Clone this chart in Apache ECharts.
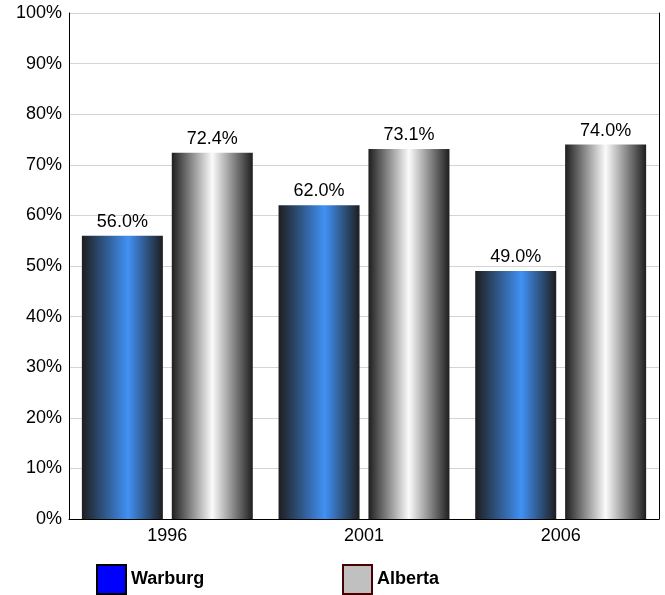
<!DOCTYPE html>
<html>
<head>
<meta charset="utf-8">
<script src="https://cdn.jsdelivr.net/npm/echarts@6/dist/echarts.min.js"></script>
<style>
html,body{margin:0;padding:0;background:#fff;}
#c{width:665px;height:595px;}
</style>
</head>
<body>
<div id="c"></div>
<script>
var categories = ['1996', '2001', '2006'];
var warburg = [56.0, 62.0, 49.0];
var alberta = [72.4, 73.1, 74.0];
var yTicks = [0, 10, 20, 30, 40, 50, 60, 70, 80, 90, 100];

var font = '"Liberation Sans", Arial, sans-serif';
var chart = echarts.init(document.getElementById('c'), null, {renderer: 'canvas'});

function grad(mid, pos) {
  return new echarts.graphic.LinearGradient(0, 0, 1, 0, [
    {offset: 0, color: '#1e1e1e'},
    {offset: pos, color: mid},
    {offset: 1, color: '#1e1e1e'}
  ]);
}

var labelCfg = {
  show: true,
  position: 'top',
  distance: 5,
  color: '#000',
  fontSize: 18,
  fontFamily: font,
  formatter: function (p) { return p.value.toFixed(1) + '%'; }
};

chart.setOption({
  animation: false,
  backgroundColor: '#fff',
  grid: {left: 69, right: 6, top: 13, bottom: 76, containLabel: false},
  legend: [
    {
      left: 96, top: 564, padding: 0,
      itemWidth: 29, itemHeight: 29, itemGap: 0,
      textStyle: {fontSize: 18, fontWeight: 'bold', fontFamily: font, color: '#000'},
      data: [{name: 'Warburg', icon: 'rect', itemStyle: {color: '#0000ff', borderColor: '#000', borderWidth: 2}}]
    },
    {
      left: 342, top: 564, padding: 0,
      itemWidth: 29, itemHeight: 29, itemGap: 0,
      textStyle: {fontSize: 18, fontWeight: 'bold', fontFamily: font, color: '#000'},
      data: [{name: 'Alberta', icon: 'rect', itemStyle: {color: '#c0c0c0', borderColor: '#4a0000', borderWidth: 2}}]
    }
  ],
  xAxis: {
    type: 'category',
    data: categories,
    axisLine: {show: true, lineStyle: {color: '#000', width: 1}},
    axisTick: {show: false},
    axisLabel: {color: '#000', fontSize: 18, fontFamily: font, margin: 8}
  },
  yAxis: [
    {
      type: 'value',
      min: 0, max: 100, interval: 10,
      axisLine: {show: true, lineStyle: {color: '#000', width: 1}},
      axisTick: {show: false},
      axisLabel: {
        color: '#000', fontSize: 18, fontFamily: font, margin: 7,
        formatter: function (v) { return yTicks.indexOf(v) >= 0 ? v + '%' : ''; }
      },
      splitLine: {show: true, lineStyle: {color: '#d4d4d4', width: 1}}
    },
    {
      type: 'value',
      position: 'right',
      min: 0, max: 100, interval: 10,
      axisLine: {show: true, lineStyle: {color: '#000', width: 1}},
      axisTick: {show: false},
      axisLabel: {show: false},
      splitLine: {show: false}
    }
  ],
  series: [
    {
      name: 'Warburg',
      type: 'bar',
      data: warburg,
      barWidth: 81,
      barGap: '11%',
      itemStyle: {color: grad('#4191f5', 0.57)},
      label: labelCfg
    },
    {
      name: 'Alberta',
      type: 'bar',
      data: alberta,
      barWidth: 81,
      itemStyle: {color: grad('#fbfbfb', 0.5)},
      label: labelCfg
    }
  ]
});
</script>
</body>
</html>
